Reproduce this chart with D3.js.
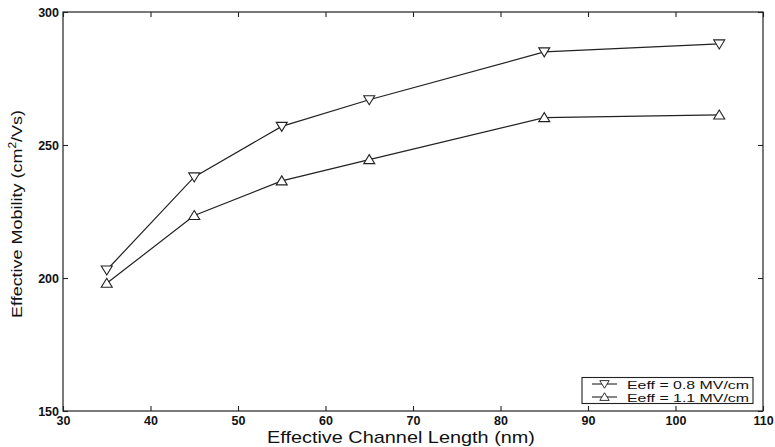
<!DOCTYPE html>
<html><head><meta charset="utf-8">
<script src="https://cdn.jsdelivr.net/npm/d3@7"></script>
<style>body{margin:0;background:#fff}svg{display:block}text{font-family:"Liberation Sans",Arial,sans-serif;fill:#111}</style>
</head><body>
<script>
const lengths = [35, 45, 55, 65, 85, 105];
const mob08 = [203, 238, 257, 267, 285, 288];
const mob11 = [198, 223.5, 236.5, 244.5, 260.3, 261.3];
const xTicks = [30, 40, 50, 60, 70, 80, 90, 100, 110];
const yTicks = [150, 200, 250, 300];
const seriesNames = ["Eeff = 0.8 MV/cm", "Eeff = 1.1 MV/cm"];

const W = 775, H = 447;
const m = {l: 63, r: 12, t: 12, b: 36};
const svg = d3.select("body").append("svg").attr("width", W).attr("height", H);
const x = d3.scaleLinear().domain([30, 110]).range([m.l, W - m.r]);
const y = d3.scaleLinear().domain([150, 300]).range([H - m.b, m.t]);
const col = "#222";

// frame
svg.append("rect").attr("x", x(30)).attr("y", y(300)).attr("width", x(110) - x(30)).attr("height", y(150) - y(300))
  .attr("fill", "none").attr("stroke", col).attr("stroke-width", 1.2);

const tl = 5;
const gb = svg.append("g").attr("transform", `translate(0,${y(150)})`)
  .call(d3.axisBottom(x).tickValues(xTicks).tickSizeInner(-tl).tickSizeOuter(0).tickPadding(5));
const gt = svg.append("g").attr("transform", `translate(0,${y(300)})`)
  .call(d3.axisTop(x).tickValues(xTicks).tickSizeInner(-tl).tickSizeOuter(0).tickFormat(""));
const gl = svg.append("g").attr("transform", `translate(${x(30)},0)`)
  .call(d3.axisLeft(y).tickValues(yTicks).tickSizeInner(-tl).tickSizeOuter(0).tickPadding(4));
const gr = svg.append("g").attr("transform", `translate(${x(110)},0)`)
  .call(d3.axisRight(y).tickValues(yTicks).tickSizeInner(-tl).tickSizeOuter(0).tickFormat(""));
[gb, gt, gl, gr].forEach(g => {
  g.select(".domain").remove();
  g.selectAll("line").attr("stroke", col).attr("stroke-width", 1.1);
  g.selectAll("text").attr("font-size", 12.5).attr("font-weight", "bold").attr("fill", "#222")
    .style("font-family", '"Liberation Sans", Arial, sans-serif');
});
gb.selectAll("text").attr("dy", "0.71em");

// axis labels
svg.append("text").attr("x", 267).attr("y", 443).attr("text-anchor", "start")
  .attr("font-size", 17).attr("textLength", 268).attr("lengthAdjust", "spacingAndGlyphs")
  .text("Effective Channel Length (nm)");
const yl = svg.append("text").attr("transform", `translate(22,${214}) rotate(-90)`).attr("text-anchor", "middle")
  .attr("font-size", 15).attr("textLength", 208).attr("lengthAdjust", "spacingAndGlyphs");
yl.append("tspan").text("Effective Mobility (cm");
yl.append("tspan").attr("font-size", 10).attr("dy", -6).text("2");
yl.append("tspan").attr("dy", 6).text("/Vs)");

// triangles
function tri(down, cx, cy) {
  const w = 5.5, h = 4;
  return down
    ? `M${cx - w},${cy - h}L${cx + w},${cy - h}L${cx},${cy + h + 1}Z`
    : `M${cx - w},${cy + h}L${cx + w},${cy + h}L${cx},${cy - h - 1}Z`;
}
const line = d3.line().x((d, i) => x(lengths[i])).y(d => y(d));
[[mob08, true], [mob11, false]].forEach(([vals, down]) => {
  svg.append("path").attr("d", line(vals)).attr("fill", "none").attr("stroke", col).attr("stroke-width", 1.2);
  svg.selectAll(null).data(vals).enter().append("path")
    .attr("d", (d, i) => tri(down, x(lengths[i]), y(d)))
    .attr("fill", "#fff").attr("stroke", col).attr("stroke-width", 1.1);
});

// legend
const lg = svg.append("g");
lg.append("rect").attr("x", 582).attr("y", 377.5).attr("width", 171).attr("height", 26)
  .attr("fill", "#fff").attr("stroke", col).attr("stroke-width", 1.1);
seriesNames.forEach((n, i) => {
  const yy = 384 + i * 13;
  lg.append("line").attr("x1", 592).attr("x2", 617).attr("y1", yy).attr("y2", yy).attr("stroke", col).attr("stroke-width", 1.1);
  lg.append("path").attr("d", tri(i === 0, 604.5, yy)).attr("fill", "#fff").attr("stroke", col).attr("stroke-width", 1.1)
    .attr("transform", `translate(${604.5},${yy}) scale(0.85) translate(${-604.5},${-yy})`);
  lg.append("text").attr("x", 627).attr("y", yy + 4.5).attr("font-size", 11)
    .attr("textLength", 122).attr("lengthAdjust", "spacingAndGlyphs")
    .attr("fill", "#222").text(n);
});
</script>
</body></html>
